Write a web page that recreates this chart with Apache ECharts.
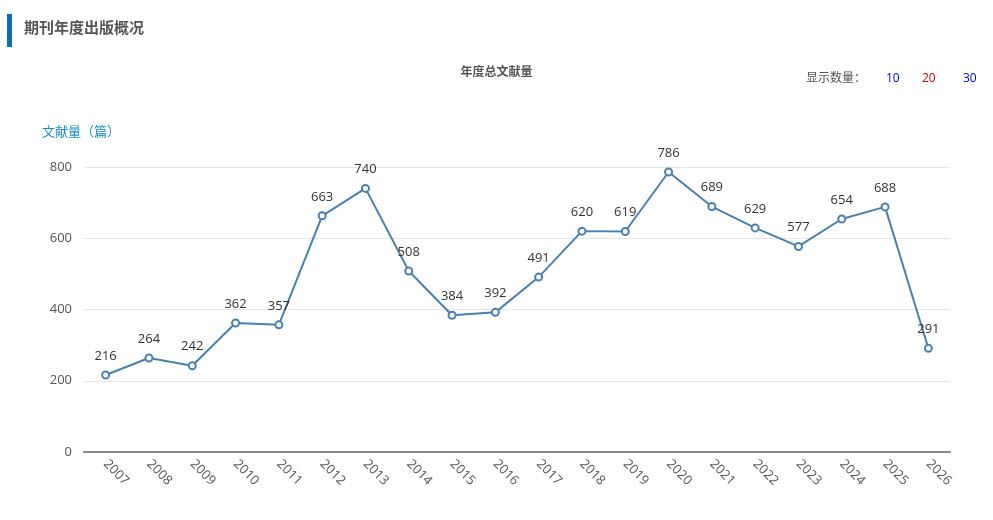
<!DOCTYPE html>
<html><head><meta charset="utf-8">
<script src="https://cdn.jsdelivr.net/npm/echarts@6/dist/echarts.min.js"></script>
<style>html,body{margin:0;padding:0;background:#fff}#c{width:993px;height:520px}</style>
</head><body><div id="c"></div>
<script>
var years = ['2007','2008','2009','2010','2011','2012','2013','2014','2015','2016','2017','2018','2019','2020','2021','2022','2023','2024','2025','2026'];
var counts = [216,264,242,362,357,663,740,508,384,392,491,620,619,786,689,629,577,654,688,291];
var yTicks = {min:0, max:800, interval:200};
var chart = echarts.init(document.getElementById('c'));
var ff = '"Open Sans","Noto Sans CJK SC",sans-serif';
chart.setOption({
  animation:false,
  textStyle:{fontFamily:ff},
  graphic:[
    {type:'rect', shape:{x:7,y:14,width:5,height:33}, style:{fill:'#0a6fb7'}},
    {type:'text', left:24, top:21, style:{text:'期刊年度出版概况', font:'bold 15px '+ff, fill:'#555'}},
    {type:'text', left:806, top:73, style:{text:'显示数量：', font:'12px '+ff, fill:'#555'}},
    {type:'text', left:886, top:73, style:{text:'10', font:'12px '+ff, fill:'#0000dd'}},
    {type:'text', left:922, top:73, style:{text:'20', font:'12px '+ff, fill:'#cc0000'}},
    {type:'text', left:963, top:73, style:{text:'30', font:'12px '+ff, fill:'#0000dd'}}
  ],
  title:{text:'年度总文献量', left:'center', top:62, textStyle:{fontSize:12, fontWeight:'bold', color:'#555', fontFamily:ff}},
  grid:{left:84, right:43, top:167, bottom:68},
  xAxis:{type:'category', data:years, boundaryGap:true,
    axisLine:{lineStyle:{color:'#888', width:2}}, axisTick:{show:false},
    axisLabel:{rotate:-45, color:'#555', fontSize:13, margin:10, interval:0}},
  yAxis:{type:'value', min:yTicks.min, max:yTicks.max, interval:yTicks.interval,
    name:'文献量（篇）', nameLocation:'end', nameGap:28,
    nameTextStyle:{color:'#1a8fc7', fontSize:13, align:'left', padding:[0,0,0,-42]},
    axisLine:{show:false}, axisTick:{show:false},
    axisLabel:{color:'#555', fontSize:13, margin:12},
    splitLine:{lineStyle:{color:'#e6e6e6'}}},
  series:[{type:'line', data:counts, symbol:'emptyCircle', symbolSize:7,
    lineStyle:{color:'#4a80b0', width:2}, itemStyle:{color:'#4a80b0', borderWidth:2},
    label:{show:true, position:'top', color:'#333', fontSize:13, distance:8}}]
});
</script></body></html>
